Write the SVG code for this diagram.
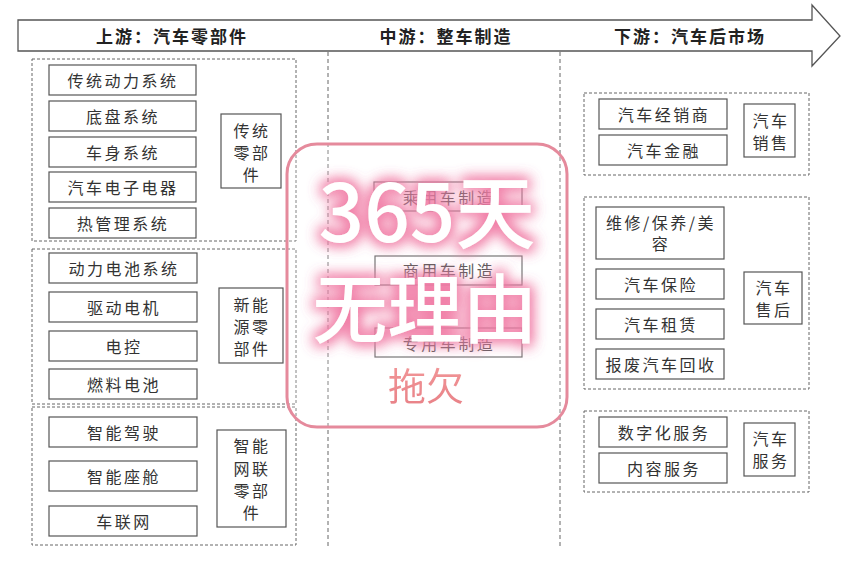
<svg xmlns="http://www.w3.org/2000/svg" width="852" height="571" viewBox="0 0 852 571">
<defs>
<style>
.bx{fill:#fff;stroke:#555;stroke-width:1.2}
.dg{fill:none;stroke:#666;stroke-width:1;stroke-dasharray:3 2}
.dl{fill:none;stroke:#666;stroke-width:1;stroke-dasharray:4 3}
.t{font-family:"Noto Sans CJK SC","Noto Sans",sans-serif;font-size:16px;fill:#333;text-anchor:middle;dominant-baseline:central;letter-spacing:2.5px}
.h{font-family:"Noto Sans CJK SC","Noto Sans",sans-serif;font-size:17px;font-weight:bold;fill:#222;text-anchor:middle;dominant-baseline:central;letter-spacing:2px}
.big{font-family:"Noto Sans CJK SC","Noto Sans",sans-serif;font-weight:500;fill:#fff;text-anchor:middle}
</style>
<filter id="glow" x="-20%" y="-30%" width="140%" height="160%">
<feMorphology in="SourceAlpha" operator="dilate" radius="2" result="d"/>
<feGaussianBlur in="d" stdDeviation="7" result="b"/>
<feFlood flood-color="#f07aa4" flood-opacity="0.85"/>
<feComposite in2="b" operator="in" result="g"/>
<feMerge><feMergeNode in="g"/><feMergeNode in="g"/><feMergeNode in="SourceGraphic"/></feMerge>
</filter>
<filter id="glow2" x="-20%" y="-30%" width="140%" height="160%">
<feMorphology in="SourceAlpha" operator="dilate" radius="2" result="d"/>
<feGaussianBlur in="d" stdDeviation="3" result="b"/>
<feFlood flood-color="#ffffff"/>
<feComposite in2="b" operator="in" result="g"/>
<feMerge><feMergeNode in="g"/><feMergeNode in="g"/><feMergeNode in="SourceGraphic"/></feMerge>
</filter>
<linearGradient id="tg" x1="0" y1="0" x2="0" y2="1">
<stop offset="0" stop-color="#f39a9a"/>
<stop offset="1" stop-color="#e87f86"/>
</linearGradient>
</defs>
<rect width="852" height="571" fill="#fff"/>

<g id="header-arrow">
<path d="M18,20 L812,20 L812,5 L840,36 L812,66 L812,51 L18,51 Z" fill="#fff" stroke="#555" stroke-width="1.3"/>
<text class="h" x="172" y="35">上游：汽车零部件</text>
<text class="h" x="446" y="35">中游：整车制造</text>
<text class="h" x="690" y="35">下游：汽车后市场</text>
</g>

<g id="connectors">
<line class="dl" x1="328" y1="52" x2="328" y2="546"/>
<line class="dl" x1="560" y1="52" x2="560" y2="546"/>
</g>

<g id="traditional">
<rect class="dg" x="32" y="59" width="264" height="182"/>
<rect class="bx" x="49" y="65" width="147" height="30"/><text class="t" x="123" y="80">传统动力系统</text>
<rect class="bx" x="49" y="101" width="147" height="30"/><text class="t" x="123" y="116">底盘系统</text>
<rect class="bx" x="49" y="137" width="147" height="30"/><text class="t" x="123" y="152">车身系统</text>
<rect class="bx" x="49" y="172" width="147" height="30"/><text class="t" x="123" y="187">汽车电子电器</text>
<rect class="bx" x="49" y="208" width="147" height="30"/><text class="t" x="123" y="223">热管理系统</text>
<rect class="bx" x="221" y="114" width="60" height="74"/>
<text class="t" x="252" y="130">传统</text><text class="t" x="252" y="152">零部</text><text class="t" x="252" y="174">件</text>
</g>

<g id="new-energy">
<rect class="dg" x="32" y="249" width="264" height="155"/>
<rect class="bx" x="49" y="253" width="148" height="30"/><text class="t" x="124" y="268">动力电池系统</text>
<rect class="bx" x="49" y="292" width="148" height="30"/><text class="t" x="124" y="307">驱动电机</text>
<rect class="bx" x="49" y="331" width="148" height="30"/><text class="t" x="124" y="346">电控</text>
<rect class="bx" x="49" y="369" width="148" height="30"/><text class="t" x="124" y="384">燃料电池</text>
<rect class="bx" x="219" y="288" width="64" height="75"/>
<text class="t" x="252" y="304">新能</text><text class="t" x="252" y="326">源零</text><text class="t" x="252" y="348">部件</text>
</g>

<g id="smart">
<rect class="dg" x="32" y="407" width="264" height="138"/>
<rect class="bx" x="49" y="417" width="148" height="30"/><text class="t" x="124" y="432">智能驾驶</text>
<rect class="bx" x="49" y="461" width="148" height="30"/><text class="t" x="124" y="476">智能座舱</text>
<rect class="bx" x="49" y="506" width="148" height="30"/><text class="t" x="124" y="521">车联网</text>
<rect class="bx" x="217" y="430" width="69" height="97"/>
<text class="t" x="252" y="445">智能</text><text class="t" x="252" y="468">网联</text><text class="t" x="252" y="490">零部</text><text class="t" x="252" y="512">件</text>
</g>

<g id="midstream">
<rect class="bx" x="374" y="182" width="148" height="29"/><text class="t" x="449" y="197">乘用车制造</text>
<rect class="bx" x="375" y="256" width="147" height="29"/><text class="t" x="449" y="270">商用车制造</text>
<rect class="bx" x="375" y="328" width="147" height="29"/><text class="t" x="449" y="343">专用车制造</text>
</g>

<g id="sales">
<rect class="dg" x="584" y="93" width="225" height="82"/>
<rect class="bx" x="599" y="99" width="128" height="30"/><text class="t" x="664" y="114">汽车经销商</text>
<rect class="bx" x="599" y="135" width="128" height="30"/><text class="t" x="664" y="150">汽车金融</text>
<rect class="bx" x="744" y="104" width="51" height="53"/>
<text class="t" x="771" y="120">汽车</text><text class="t" x="771" y="142">销售</text>
</g>

<g id="aftersales">
<rect class="dg" x="584" y="197" width="225" height="192"/>
<rect class="bx" x="596" y="207" width="128" height="52"/><text class="t" x="661" y="222">维修/保养/美</text><text class="t" x="661" y="243">容</text>
<rect class="bx" x="596" y="269" width="128" height="30"/><text class="t" x="661" y="284">汽车保险</text>
<rect class="bx" x="596" y="309" width="128" height="30"/><text class="t" x="661" y="324">汽车租赁</text>
<rect class="bx" x="596" y="349" width="128" height="30"/><text class="t" x="661" y="364">报废汽车回收</text>
<rect class="bx" x="744" y="272" width="58" height="52"/>
<text class="t" x="774" y="287">汽车</text><text class="t" x="774" y="309">售后</text>
</g>

<g id="services">
<rect class="dg" x="584" y="411" width="225" height="81"/>
<rect class="bx" x="599" y="417" width="128" height="30"/><text class="t" x="664" y="432">数字化服务</text>
<rect class="bx" x="599" y="453" width="128" height="30"/><text class="t" x="664" y="468">内容服务</text>
<rect class="bx" x="744" y="423" width="51" height="53"/>
<text class="t" x="771" y="438">汽车</text><text class="t" x="771" y="460">服务</text>
</g>

<g id="overlay">
<rect x="287" y="144" width="280" height="283" rx="30" ry="30" fill="#fff" fill-opacity="0.2" stroke="#e58a9c" stroke-width="3"/>
<text class="big" x="427" y="242" font-size="80" filter="url(#glow)">365天</text>
<text class="big" x="425" y="337" font-size="75" filter="url(#glow)">无理由</text>
<text x="426" y="400" font-family="'Noto Sans CJK SC',sans-serif" font-size="38" fill="url(#tg)" text-anchor="middle" filter="url(#glow2)">拖欠</text>
</g>
</svg>
